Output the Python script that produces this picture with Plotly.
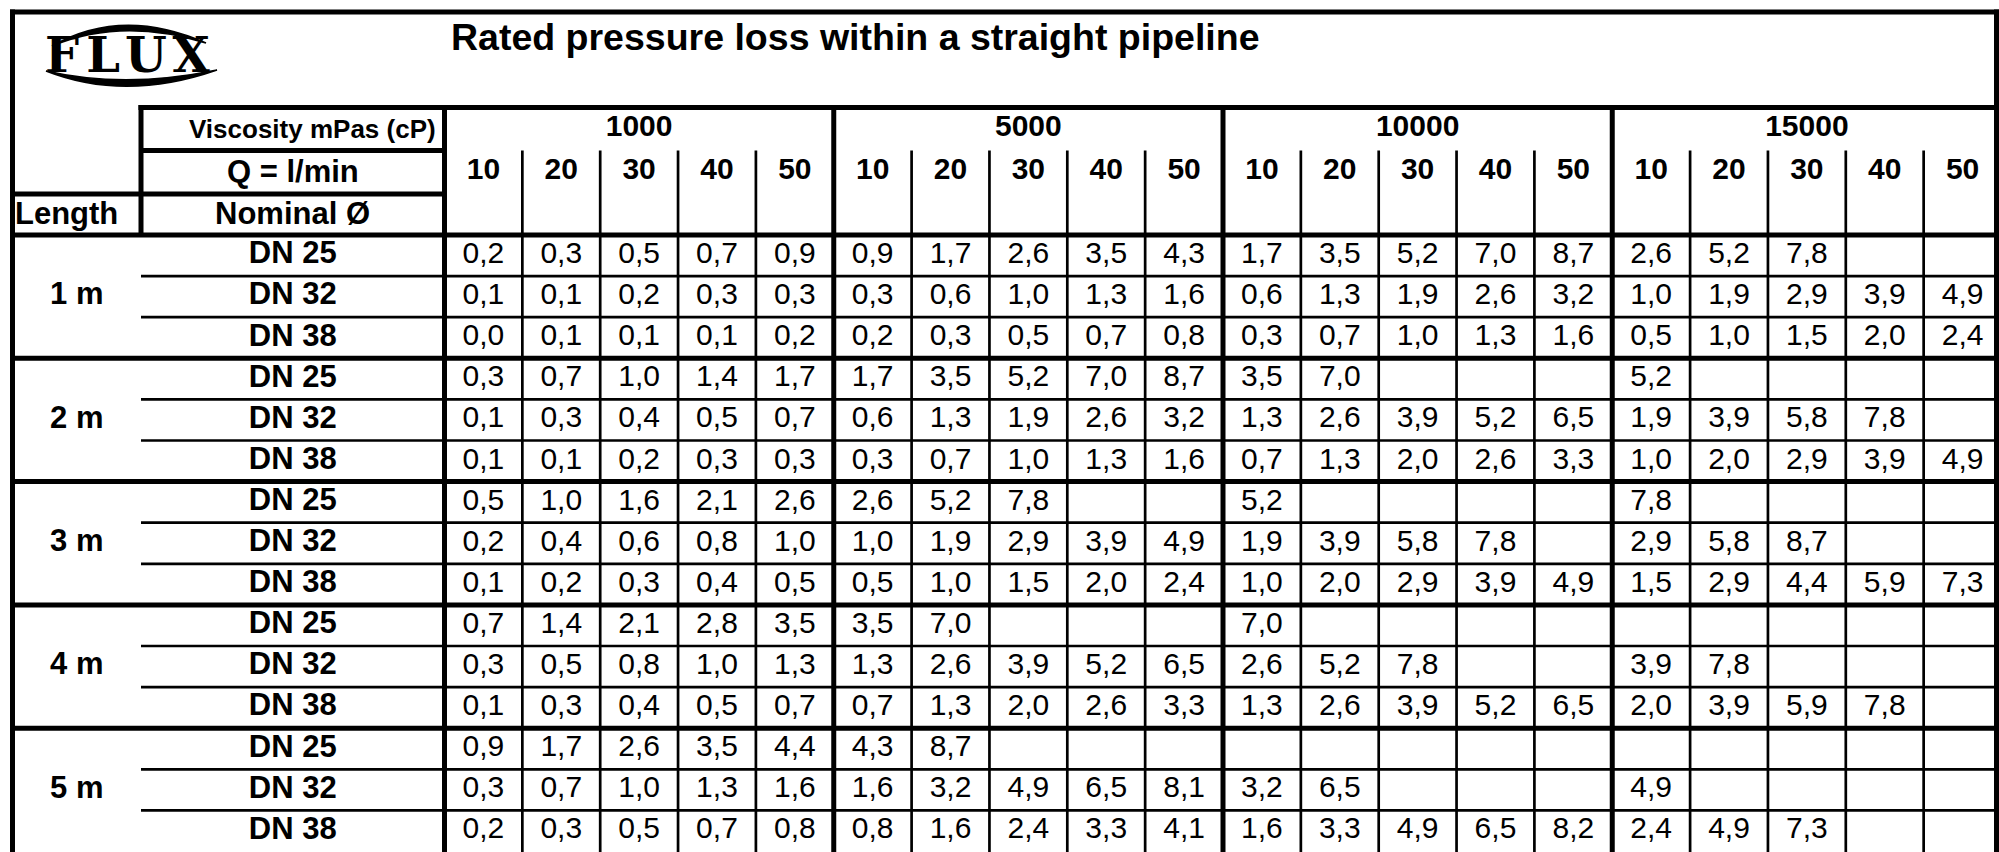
import plotly.graph_objects as go

# ---------------- data ----------------
lengths = ["1 m", "2 m", "3 m", "4 m", "5 m"]
diameters = ["DN 25", "DN 32", "DN 38"]
viscosities = ["1000", "5000", "10000", "15000"]
flows = ["10", "20", "30", "40", "50"]

# rows: (1 m: DN25, DN32, DN38), (2 m: ...), ... ; columns: Q = 10..50 l/min
loss_1000 = [
    [0.2, 0.3, 0.5, 0.7, 0.9], [0.1, 0.1, 0.2, 0.3, 0.3], [0.0, 0.1, 0.1, 0.1, 0.2],
    [0.3, 0.7, 1.0, 1.4, 1.7], [0.1, 0.3, 0.4, 0.5, 0.7], [0.1, 0.1, 0.2, 0.3, 0.3],
    [0.5, 1.0, 1.6, 2.1, 2.6], [0.2, 0.4, 0.6, 0.8, 1.0], [0.1, 0.2, 0.3, 0.4, 0.5],
    [0.7, 1.4, 2.1, 2.8, 3.5], [0.3, 0.5, 0.8, 1.0, 1.3], [0.1, 0.3, 0.4, 0.5, 0.7],
    [0.9, 1.7, 2.6, 3.5, 4.4], [0.3, 0.7, 1.0, 1.3, 1.6], [0.2, 0.3, 0.5, 0.7, 0.8],
]
loss_5000 = [
    [0.9, 1.7, 2.6, 3.5, 4.3], [0.3, 0.6, 1.0, 1.3, 1.6], [0.2, 0.3, 0.5, 0.7, 0.8],
    [1.7, 3.5, 5.2, 7.0, 8.7], [0.6, 1.3, 1.9, 2.6, 3.2], [0.3, 0.7, 1.0, 1.3, 1.6],
    [2.6, 5.2, 7.8, None, None], [1.0, 1.9, 2.9, 3.9, 4.9], [0.5, 1.0, 1.5, 2.0, 2.4],
    [3.5, 7.0, None, None, None], [1.3, 2.6, 3.9, 5.2, 6.5], [0.7, 1.3, 2.0, 2.6, 3.3],
    [4.3, 8.7, None, None, None], [1.6, 3.2, 4.9, 6.5, 8.1], [0.8, 1.6, 2.4, 3.3, 4.1],
]
loss_10000 = [
    [1.7, 3.5, 5.2, 7.0, 8.7], [0.6, 1.3, 1.9, 2.6, 3.2], [0.3, 0.7, 1.0, 1.3, 1.6],
    [3.5, 7.0, None, None, None], [1.3, 2.6, 3.9, 5.2, 6.5], [0.7, 1.3, 2.0, 2.6, 3.3],
    [5.2, None, None, None, None], [1.9, 3.9, 5.8, 7.8, None], [1.0, 2.0, 2.9, 3.9, 4.9],
    [7.0, None, None, None, None], [2.6, 5.2, 7.8, None, None], [1.3, 2.6, 3.9, 5.2, 6.5],
    [None, None, None, None, None], [3.2, 6.5, None, None, None], [1.6, 3.3, 4.9, 6.5, 8.2],
]
loss_15000 = [
    [2.6, 5.2, 7.8, None, None], [1.0, 1.9, 2.9, 3.9, 4.9], [0.5, 1.0, 1.5, 2.0, 2.4],
    [5.2, None, None, None, None], [1.9, 3.9, 5.8, 7.8, None], [1.0, 2.0, 2.9, 3.9, 4.9],
    [7.8, None, None, None, None], [2.9, 5.8, 8.7, None, None], [1.5, 2.9, 4.4, 5.9, 7.3],
    [None, None, None, None, None], [3.9, 7.8, None, None, None], [2.0, 3.9, 5.9, 7.8, None],
    [None, None, None, None, None], [4.9, None, None, None, None], [2.4, 4.9, 7.3, None, None],
]

title_text = "Rated pressure loss within a straight pipeline"
visc_label = "Viscosity mPas (cP)"
q_label = "Q = l/min"
nominal_label = "Nominal Ø"
length_label = "Length"
logo_letters = ["F", "L", "U", "X"]

# ---------------- layout geometry (pixel -> table units) ----------------
W, H = 1999, 852
X0, CW = 444.5, 77.85   # left edge of first data column, column width (px)
Y0, RH = 235.0, 41.1    # top edge of first data row, row height (px)


def ux(px):
    return (px - X0) / CW


def uy(py):
    return (py - Y0) / RH


NCOL = len(viscosities) * len(flows)
NROW = len(lengths) * len(diameters)
LEFT = ux(12.5)
RIGHT = ux(1996.5)
LBL2 = ux(141)
TOP = uy(12)
TITLE_B = uy(107.5)
VISC_B = uy(150.5)
Q_B = uy(194)
BOTTOM = uy(H + 10)

FONT = "Arial, Liberation Sans, Helvetica, sans-serif"
BLACK = "#000000"
THICK, THIN = 5, 2.7
hx = 2.5 / CW
hy = 2.5 / RH

fig = go.Figure()

# ---------------- grid lines ----------------
shapes = []


def hline(y, x0, x1, w):
    shapes.append(dict(type="line", xref="x", yref="y", x0=x0, x1=x1, y0=y, y1=y,
                       line=dict(color=BLACK, width=w)))


def vline(x, y0, y1, w):
    shapes.append(dict(type="line", xref="x", yref="y", x0=x, x1=x, y0=y0, y1=y1,
                       line=dict(color=BLACK, width=w)))


# thin lines first
for c in range(1, NCOL):
    if c % len(flows):
        vline(c, VISC_B, BOTTOM, THIN)
for r in range(1, NROW):
    if r % len(diameters):
        hline(r, LBL2, RIGHT, THIN)

# thick lines
hline(TOP, LEFT - hx, RIGHT + hx, THICK)
vline(LEFT, TOP - hy, BOTTOM, THICK)
vline(RIGHT, TOP - hy, BOTTOM, THICK)
hline(TITLE_B, LBL2 - hx, RIGHT, THICK)
vline(LBL2, TITLE_B - hy, 0, THICK)
hline(VISC_B, LBL2, 0, THICK)
hline(Q_B, LEFT, 0, THICK)
hline(0, LEFT, RIGHT, THICK)
for c in range(0, NCOL, len(flows)):
    vline(c, TITLE_B - hy, BOTTOM, THICK)
for r in range(len(diameters), NROW, len(diameters)):
    hline(r, LEFT, RIGHT, THICK)

# ---------------- logo (FLUX) ----------------
def pp(px, py):
    return f"{ux(px):.4f},{uy(py):.4f}"


shapes.append(dict(type="path", xref="x", yref="y",
                   path=f"M {pp(52,46)} Q {pp(122,6)} {pp(206,43)} Q {pp(122,17)} {pp(52,46)} Z",
                   fillcolor=BLACK, line=dict(color=BLACK, width=1.5)))
shapes.append(dict(type="path", xref="x", yref="y",
                   path=f"M {pp(46,71)} Q {pp(125,102)} {pp(217,70)} Q {pp(125,89)} {pp(46,71)} Z",
                   fillcolor=BLACK, line=dict(color=BLACK, width=1.5)))

logo_x = [ux(62), ux(103), ux(146), ux(191)]
fig.add_trace(go.Scatter(
    x=logo_x, y=[uy(60)] * 4, mode="text", text=[f"<b>{t}</b>" for t in logo_letters],
    textposition="middle center",
    textfont=dict(family="DejaVu Serif", size=48, color=BLACK),
    hoverinfo="skip"))

# ---------------- cell values ----------------
groups = [loss_1000, loss_5000, loss_10000, loss_15000]
vx, vy, vt = [], [], []
for g, block in enumerate(groups):
    for r, row in enumerate(block):
        for k, v in enumerate(row):
            if v is None:
                continue
            vx.append(g * len(flows) + k + 0.5)
            vy.append(r + 0.5)
            vt.append(f"{v:.1f}".replace(".", ","))

fig.add_trace(go.Scatter(
    x=vx, y=vy, mode="text", text=vt, textposition="middle center",
    textfont=dict(family=FONT, size=30, color=BLACK), hoverinfo="skip"))

# flow header
qx, qt = [], []
for g in range(len(viscosities)):
    for k, f in enumerate(flows):
        qx.append(g * len(flows) + k + 0.5)
        qt.append(f"<b>{f}</b>")
fig.add_trace(go.Scatter(
    x=qx, y=[uy(171.5)] * len(qx), mode="text", text=qt, textposition="middle center",
    textfont=dict(family=FONT, size=30, color=BLACK), hoverinfo="skip"))

# viscosity header
fig.add_trace(go.Scatter(
    x=[g * len(flows) + len(flows) / 2 for g in range(len(viscosities))],
    y=[uy(128)] * len(viscosities), mode="text", text=[f"<b>{v}</b>" for v in viscosities],
    textposition="middle center",
    textfont=dict(family=FONT, size=30, color=BLACK), hoverinfo="skip"))

# nominal diameters
fig.add_trace(go.Scatter(
    x=[(LBL2 + 0) / 2] * NROW, y=[r + 0.5 for r in range(NROW)], mode="text",
    text=[f"<b>{diameters[r % len(diameters)]}</b>" for r in range(NROW)],
    textposition="middle center",
    textfont=dict(family=FONT, size=31, color=BLACK), hoverinfo="skip"))

# lengths
fig.add_trace(go.Scatter(
    x=[(LEFT + LBL2) / 2] * len(lengths),
    y=[g * len(diameters) + len(diameters) / 2 for g in range(len(lengths))],
    mode="text", text=[f"<b>{t}</b>" for t in lengths], textposition="middle center",
    textfont=dict(family=FONT, size=31, color=BLACK), hoverinfo="skip"))

# ---------------- header labels ----------------
annotations = [
    dict(x=ux(449), y=uy(37), text=f"<b>{title_text}</b>", xanchor="left", yanchor="middle",
         font=dict(family=FONT, size=37.5, color=BLACK)),
    dict(x=ux(438), y=uy(129), text=f"<b>{visc_label}</b>", xanchor="right", yanchor="middle",
         font=dict(family=FONT, size=26, color=BLACK)),
    dict(x=(LBL2 + 0) / 2, y=uy(171.5), text=f"<b>{q_label}</b>", xanchor="center", yanchor="middle",
         font=dict(family=FONT, size=31, color=BLACK)),
    dict(x=(LBL2 + 0) / 2, y=uy(213), text=f"<b>{nominal_label}</b>", xanchor="center", yanchor="middle",
         font=dict(family=FONT, size=31, color=BLACK)),
    dict(x=ux(13), y=uy(213), text=f"<b>{length_label}</b>", xanchor="left", yanchor="middle",
         font=dict(family=FONT, size=31, color=BLACK)),
]
for a in annotations:
    a.update(xref="x", yref="y", showarrow=False)

fig.update_layout(
    width=W, height=H, margin=dict(l=0, r=0, t=0, b=0, pad=0),
    paper_bgcolor="white", plot_bgcolor="white", showlegend=False,
    shapes=shapes, annotations=annotations, hovermode=False,
    xaxis=dict(range=[ux(0), ux(W)], visible=False, fixedrange=True),
    yaxis=dict(range=[uy(H), uy(0)], visible=False, fixedrange=True),
)

# remove the default page margin so the figure fills the window exactly
fig.write_html("out.html", config={"displayModeBar": False},
               post_script="document.body.style.margin='0px';")
